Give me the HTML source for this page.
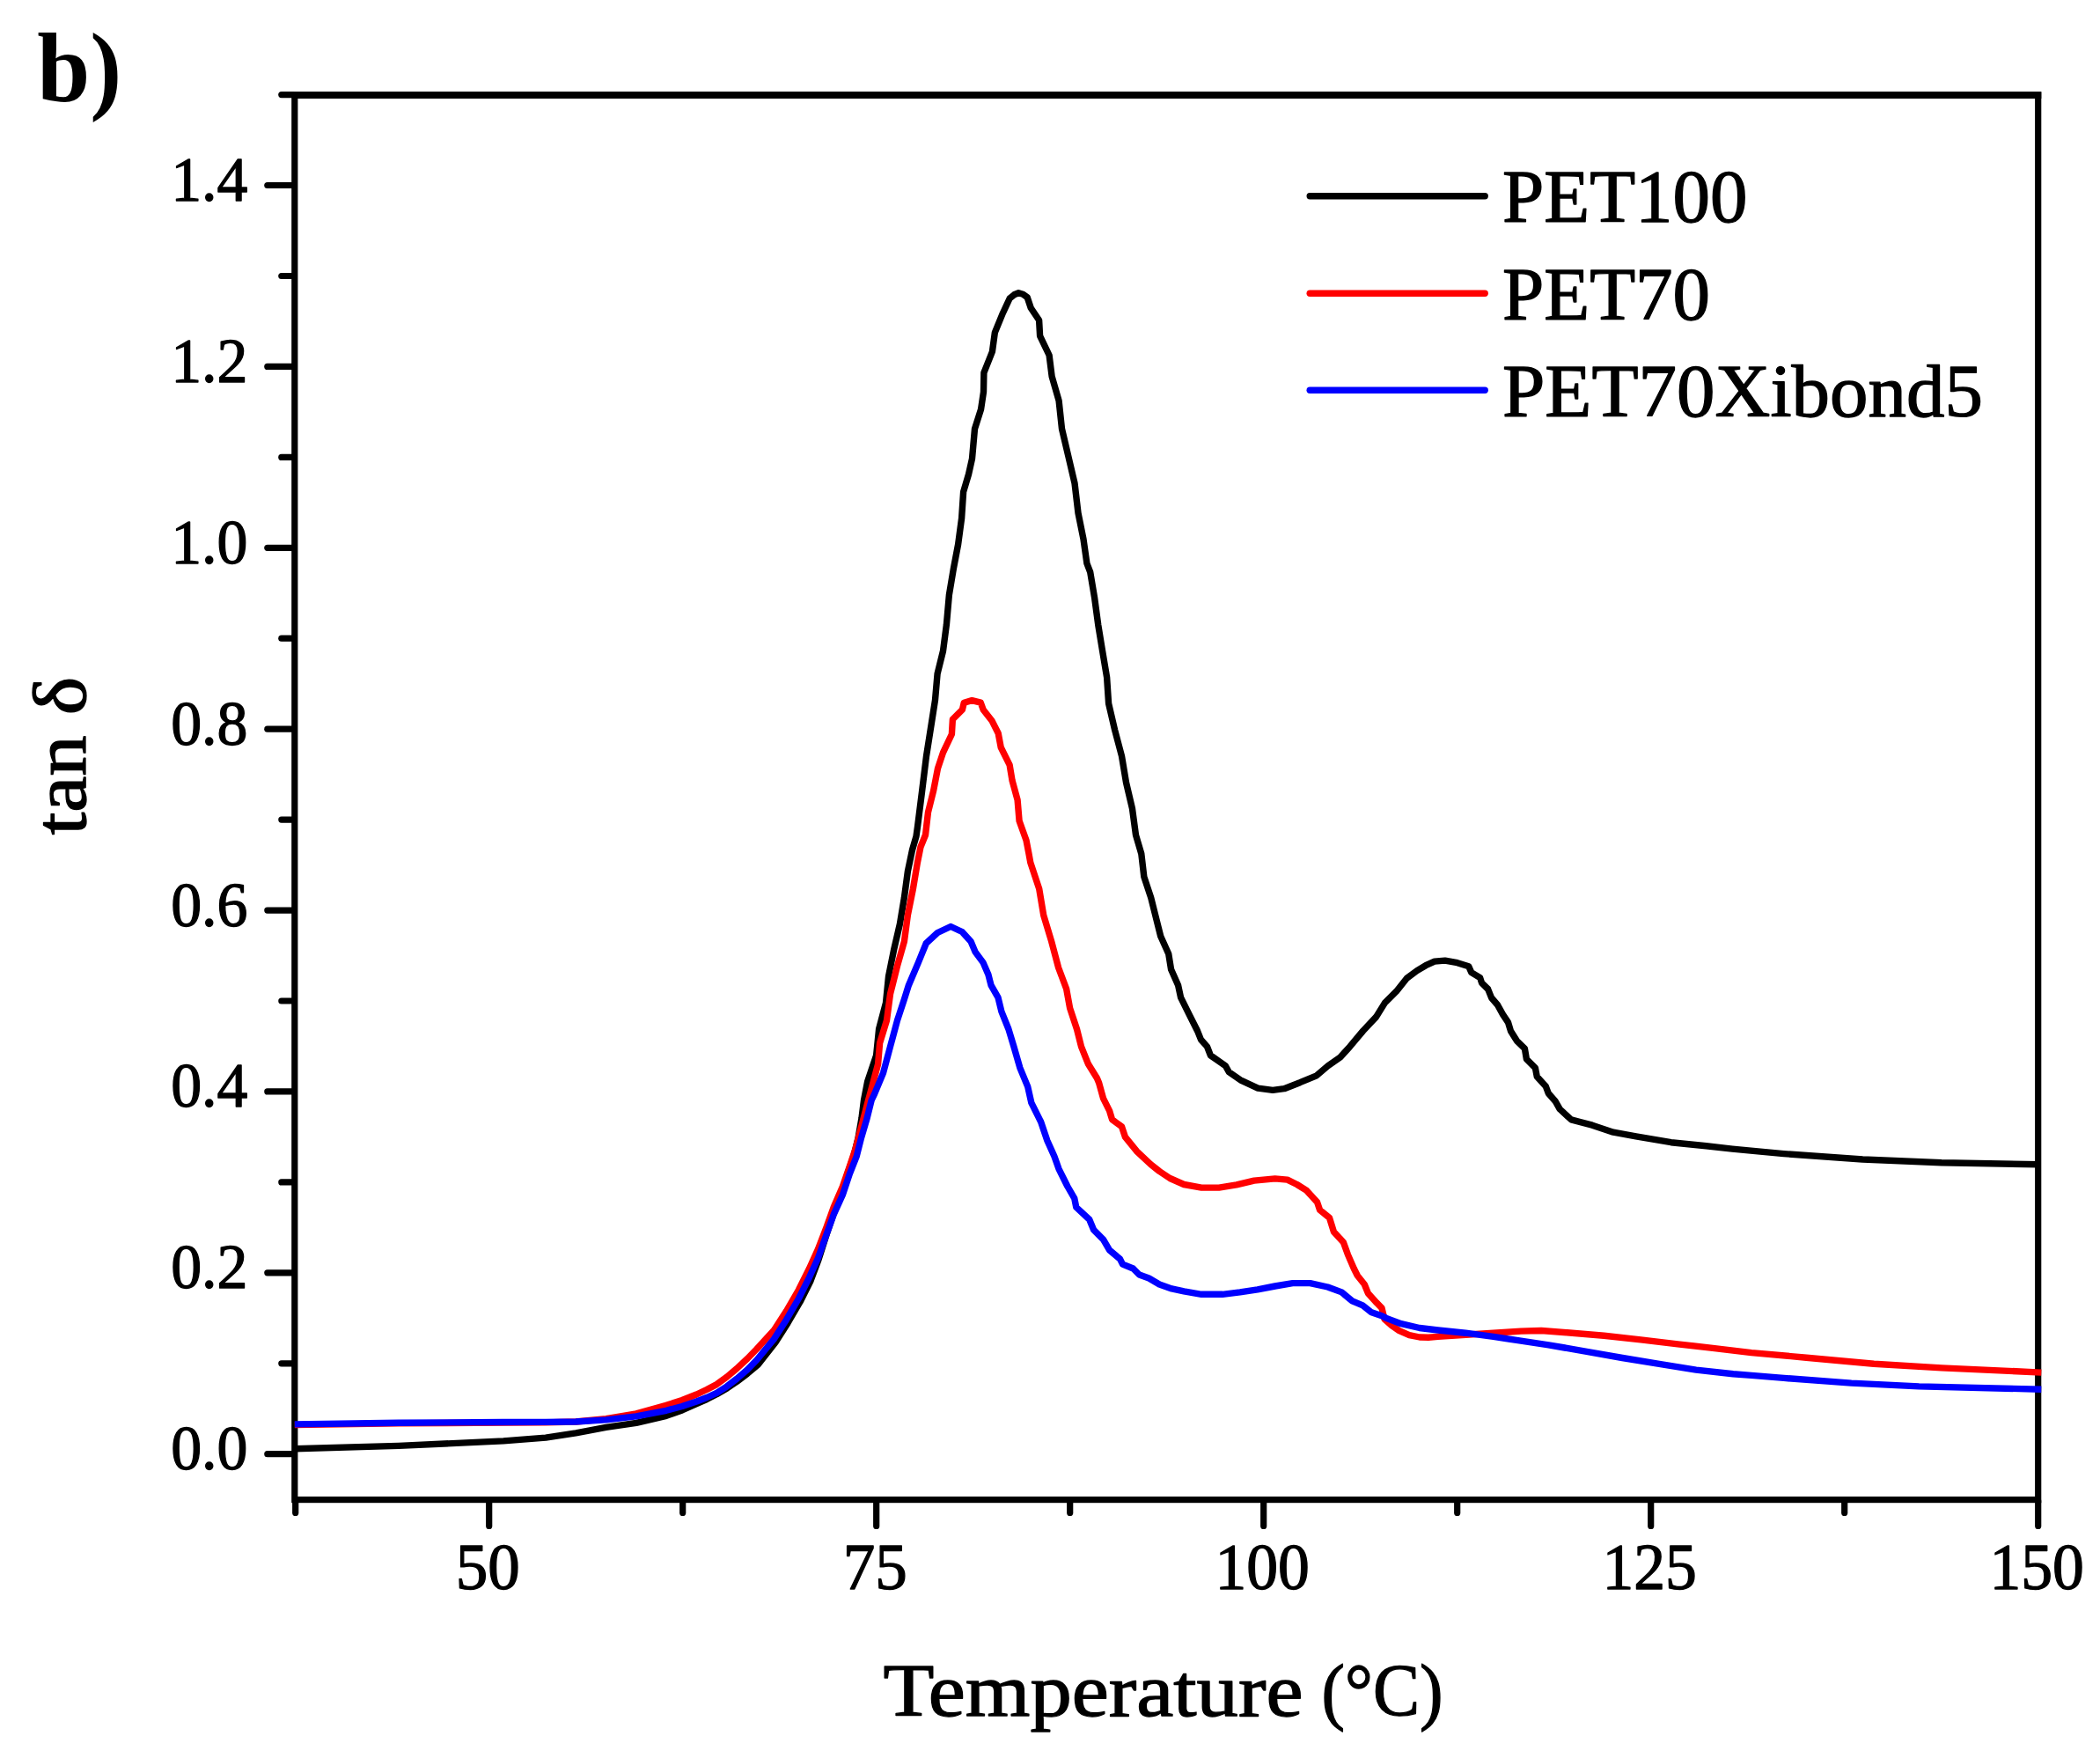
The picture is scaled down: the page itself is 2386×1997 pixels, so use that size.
<!DOCTYPE html>
<html lang="en"><head><meta charset="utf-8"><title>tan delta vs temperature</title>
<style>html,body{margin:0;padding:0;background:#fff;}body{width:2386px;height:1997px;overflow:hidden;}svg{display:block;}text{font-family:"Liberation Serif","DejaVu Serif",serif;fill:#000;stroke:#000;stroke-width:1.3px;stroke-linejoin:round;}text.b{stroke:none;}</style></head><body>
<svg width="2386" height="1997" viewBox="0 0 2386 1997">
<rect x="0" y="0" width="2386" height="1997" fill="#fff"/>
<g stroke="#000" stroke-width="7.2" fill="none" stroke-linecap="round">
<rect x="334.8" y="107.8" width="1980.9" height="1595.8" stroke-linejoin="miter"/>
<line x1="334.8" y1="108.1" x2="2319.3" y2="108.1" stroke-width="7.8" stroke-linecap="butt"/>
<line x1="303.8" y1="1651.7" x2="333.3" y2="1651.7"/>
<line x1="319.8" y1="1548.8" x2="333.3" y2="1548.8"/>
<line x1="303.8" y1="1445.8" x2="333.3" y2="1445.8"/>
<line x1="319.8" y1="1342.9" x2="333.3" y2="1342.9"/>
<line x1="303.8" y1="1239.9" x2="333.3" y2="1239.9"/>
<line x1="319.8" y1="1137.0" x2="333.3" y2="1137.0"/>
<line x1="303.8" y1="1034.1" x2="333.3" y2="1034.1"/>
<line x1="319.8" y1="931.1" x2="333.3" y2="931.1"/>
<line x1="303.8" y1="828.2" x2="333.3" y2="828.2"/>
<line x1="319.8" y1="725.2" x2="333.3" y2="725.2"/>
<line x1="303.8" y1="622.3" x2="333.3" y2="622.3"/>
<line x1="319.8" y1="519.4" x2="333.3" y2="519.4"/>
<line x1="303.8" y1="416.4" x2="333.3" y2="416.4"/>
<line x1="319.8" y1="313.5" x2="333.3" y2="313.5"/>
<line x1="303.8" y1="210.5" x2="333.3" y2="210.5"/>
<line x1="319.8" y1="107.6" x2="333.3" y2="107.6"/>
<line x1="335.7" y1="1705.1" x2="335.7" y2="1718.4"/>
<line x1="555.7" y1="1705.1" x2="555.7" y2="1733.4"/>
<line x1="775.7" y1="1705.1" x2="775.7" y2="1718.4"/>
<line x1="995.7" y1="1705.1" x2="995.7" y2="1733.4"/>
<line x1="1215.7" y1="1705.1" x2="1215.7" y2="1718.4"/>
<line x1="1435.7" y1="1705.1" x2="1435.7" y2="1733.4"/>
<line x1="1655.7" y1="1705.1" x2="1655.7" y2="1718.4"/>
<line x1="1875.7" y1="1705.1" x2="1875.7" y2="1733.4"/>
<line x1="2095.7" y1="1705.1" x2="2095.7" y2="1718.4"/>
<line x1="2315.7" y1="1705.1" x2="2315.7" y2="1733.4"/>
</g>
<g fill="none" stroke-width="7.4" stroke-linejoin="round" stroke-linecap="butt">
<polyline stroke="#000" points="334.8,1645.7 453.0,1642.4 572.0,1636.9 620.0,1633.1 654.3,1627.8 688.6,1621.4 722.9,1616.3 757.1,1608.3 775.0,1602.0 791.4,1594.6 803.0,1589.5 814.3,1583.8 826.0,1577.0 837.1,1569.5 849.0,1560.5 861.0,1550.5 881.0,1525.0 895.0,1503.0 909.0,1479.0 921.0,1455.0 930.0,1431.0 939.4,1401.3 947.0,1379.0 956.0,1357.0 963.0,1333.0 970.0,1313.0 975.0,1293.0 979.0,1270.0 981.5,1250.0 985.6,1228.7 995.6,1198.9 998.6,1169.0 1006.5,1139.1 1009.5,1109.3 1015.5,1079.4 1022.4,1049.6 1027.4,1019.7 1031.4,989.8 1036.4,965.9 1041.0,950.0 1042.6,938.6 1047.6,898.7 1052.5,858.9 1057.5,827.1 1062.5,795.2 1065.1,765.3 1071.5,739.5 1075.4,709.6 1078.4,675.7 1083.4,645.9 1088.6,618.5 1092.6,588.7 1094.6,558.8 1100.5,538.9 1104.5,521.0 1107.5,487.1 1114.5,465.2 1117.5,445.3 1117.9,423.4 1127.4,399.5 1130.4,377.6 1139.4,355.7 1147.3,338.8 1152.3,334.8 1157.3,332.8 1162.3,334.2 1167.2,337.8 1171.2,349.7 1180.6,363.7 1181.6,381.6 1192.1,403.5 1195.1,427.4 1203.1,455.3 1206.5,487.1 1214.0,519.0 1221.0,548.8 1225.0,582.7 1231.0,612.5 1234.9,640.0 1238.7,649.9 1243.7,679.7 1247.7,709.6 1252.6,739.5 1257.6,769.3 1259.6,799.2 1266.6,829.1 1274.5,858.9 1279.5,888.8 1286.5,918.7 1290.5,948.5 1296.8,969.9 1299.8,995.8 1307.7,1019.7 1313.7,1043.6 1318.7,1063.5 1327.7,1083.4 1330.6,1101.3 1338.6,1119.2 1341.6,1133.2 1351.5,1153.1 1360.5,1171.0 1364.5,1181.0 1371.5,1188.9 1375.4,1198.9 1392.4,1210.8 1396.3,1217.8 1409.3,1226.8 1429.2,1236.1 1446.1,1238.3 1459.1,1236.7 1477.0,1229.7 1495.9,1221.8 1508.8,1210.8 1522.8,1200.9 1533.7,1188.9 1548.7,1171.0 1563.6,1155.1 1573.5,1139.1 1586.5,1126.2 1598.4,1111.3 1610.0,1102.6 1619.9,1096.7 1629.9,1092.1 1641.8,1091.1 1655.8,1093.7 1668.7,1097.7 1671.7,1104.6 1681.6,1110.6 1683.6,1116.6 1690.6,1123.5 1694.6,1133.5 1701.5,1141.5 1707.5,1152.4 1713.5,1161.4 1716.5,1171.3 1723.4,1182.3 1732.4,1191.2 1734.4,1203.2 1744.4,1213.1 1746.3,1223.1 1756.3,1234.0 1759.3,1242.0 1767.2,1251.0 1772.2,1259.9 1785.2,1271.9 1809.1,1278.2 1833.0,1286.2 1858.8,1290.8 1898.7,1297.7 1938.5,1301.7 1968.3,1305.1 2000.0,1308.1 2026.8,1310.6 2116.3,1317.0 2205.9,1320.8 2316.0,1322.8"/>
<polyline stroke="#f00" points="334.8,1618.6 453.0,1616.9 572.0,1616.1 620.0,1615.9 654.3,1615.0 688.6,1611.7 722.9,1605.9 757.1,1596.3 775.0,1590.5 791.4,1584.0 803.0,1578.5 814.3,1572.6 826.0,1564.0 837.1,1554.6 849.0,1543.5 859.7,1532.5 879.6,1510.8 893.6,1489.0 907.5,1465.0 919.5,1441.0 929.4,1419.0 939.4,1393.0 947.3,1371.0 957.3,1348.0 965.3,1325.0 972.0,1305.0 976.5,1288.0 981.6,1268.6 986.5,1250.0 989.6,1238.7 997.6,1208.8 999.6,1184.9 1007.5,1159.1 1011.5,1129.2 1019.5,1097.3 1027.4,1069.5 1031.4,1039.6 1037.4,1009.7 1042.4,979.9 1046.0,962.0 1051.5,948.5 1054.5,922.6 1060.5,898.7 1065.5,872.9 1071.5,854.9 1081.4,834.0 1082.4,817.1 1093.4,806.2 1095.3,798.2 1104.3,795.6 1114.3,798.2 1117.2,806.2 1127.2,819.1 1134.2,833.0 1137.2,849.0 1147.1,868.9 1150.1,886.8 1156.1,908.7 1158.1,932.6 1166.0,954.5 1169.0,970.0 1170.8,979.9 1180.7,1009.7 1185.7,1039.6 1194.7,1069.5 1202.6,1099.3 1211.6,1123.2 1215.6,1145.1 1223.5,1169.0 1228.5,1188.9 1236.5,1208.8 1246.4,1224.8 1248.6,1230.0 1253.6,1247.9 1260.6,1261.9 1263.6,1271.8 1274.5,1279.8 1278.5,1291.7 1291.5,1307.7 1307.4,1322.6 1317.3,1330.5 1329.3,1338.5 1345.2,1345.5 1365.1,1349.1 1385.0,1349.1 1404.9,1345.9 1424.9,1341.1 1448.7,1338.9 1462.7,1340.1 1473.6,1345.5 1484.6,1352.4 1496.5,1365.4 1499.5,1374.3 1510.5,1383.3 1515.4,1399.2 1526.4,1411.2 1531.4,1425.1 1538.3,1441.0 1542.3,1449.0 1550.3,1459.0 1554.3,1468.9 1564.2,1479.9 1570.0,1485.8 1573.0,1498.5 1581.5,1506.0 1589.8,1511.6 1601.2,1516.6 1612.9,1519.0 1623.0,1519.2 1633.8,1518.4 1665.2,1516.3 1696.7,1514.2 1728.1,1512.1 1751.1,1511.5 1780.5,1513.8 1822.4,1517.3 1864.3,1521.9 1906.2,1526.8 1948.1,1531.6 1990.0,1536.6 2052.4,1542.2 2129.1,1549.3 2205.9,1553.9 2319.3,1559.1"/>
<polyline stroke="#00f" points="334.8,1617.9 453.0,1616.2 572.0,1615.5 620.0,1615.4 654.3,1615.0 688.6,1612.9 722.9,1608.8 757.1,1602.3 775.0,1597.5 791.4,1592.0 803.0,1587.5 814.3,1582.3 826.0,1574.8 837.1,1566.3 849.0,1556.0 859.7,1545.0 879.6,1520.8 893.6,1498.9 907.5,1475.0 919.5,1451.1 929.4,1429.2 939.4,1401.3 947.3,1379.4 957.3,1357.5 965.3,1333.6 973.2,1313.7 978.2,1293.8 985.2,1269.9 990.1,1250.0 993.6,1242.7 1003.5,1218.8 1011.5,1188.9 1019.5,1159.1 1027.4,1135.2 1032.4,1119.2 1043.4,1093.4 1052.3,1071.5 1065.3,1059.5 1080.2,1052.5 1093.1,1058.5 1103.1,1069.5 1108.1,1081.4 1117.0,1093.4 1123.0,1107.3 1126.0,1119.2 1134.0,1133.2 1137.9,1149.1 1145.9,1169.0 1151.9,1188.9 1158.8,1212.8 1167.8,1234.7 1171.8,1252.6 1182.7,1274.5 1189.9,1295.7 1197.9,1313.6 1202.9,1327.6 1212.8,1347.5 1220.8,1361.4 1222.8,1371.4 1237.7,1385.3 1242.7,1397.2 1253.6,1408.2 1260.6,1420.1 1272.5,1430.1 1275.5,1436.1 1287.5,1441.0 1294.4,1448.0 1305.4,1452.0 1317.3,1459.0 1331.3,1463.9 1345.2,1466.9 1365.1,1470.3 1389.0,1470.3 1408.9,1467.9 1428.8,1464.9 1448.7,1461.0 1468.7,1457.6 1488.6,1457.6 1508.5,1462.0 1524.4,1467.9 1536.4,1477.9 1548.3,1482.9 1558.3,1490.8 1570.0,1494.8 1575.1,1497.4 1591.9,1503.7 1612.9,1508.5 1633.8,1511.0 1665.2,1514.2 1696.7,1518.4 1728.1,1523.2 1759.5,1527.8 1801.4,1535.1 1843.3,1542.5 1885.2,1549.4 1927.1,1556.1 1969.1,1560.7 1990.0,1562.4 2026.8,1565.4 2103.5,1571.1 2180.3,1574.9 2319.3,1578.2"/>
</g>
<g fill="none" stroke-width="7.4" stroke-linecap="round">
<line stroke="#000" x1="1488.2" y1="222.7" x2="1687.2" y2="222.7"/>
<line stroke="#f00" x1="1488.2" y1="333.2" x2="1687.2" y2="333.2"/>
<line stroke="#00f" x1="1488.2" y1="443.3" x2="1687.2" y2="443.3"/>
</g>
<g font-size="72" text-anchor="end">
<text x="281.5" y="1669.2" textLength="87.3" lengthAdjust="spacingAndGlyphs">0.0</text>
<text x="281.5" y="1463.3" textLength="87.3" lengthAdjust="spacingAndGlyphs">0.2</text>
<text x="281.5" y="1257.4" textLength="87.3" lengthAdjust="spacingAndGlyphs">0.4</text>
<text x="281.5" y="1051.6" textLength="87.3" lengthAdjust="spacingAndGlyphs">0.6</text>
<text x="281.5" y="845.7" textLength="87.3" lengthAdjust="spacingAndGlyphs">0.8</text>
<text x="281.5" y="639.8" textLength="87.3" lengthAdjust="spacingAndGlyphs">1.0</text>
<text x="281.5" y="433.9" textLength="87.3" lengthAdjust="spacingAndGlyphs">1.2</text>
<text x="281.5" y="228.0" textLength="87.3" lengthAdjust="spacingAndGlyphs">1.4</text>
</g>
<g font-size="73" text-anchor="middle">
<text x="554.2" y="1805" textLength="73.0" lengthAdjust="spacingAndGlyphs">50</text>
<text x="994.2" y="1805" textLength="73.0" lengthAdjust="spacingAndGlyphs">75</text>
<text x="1434.2" y="1805" textLength="107.5" lengthAdjust="spacingAndGlyphs">100</text>
<text x="1874.2" y="1805" textLength="107.5" lengthAdjust="spacingAndGlyphs">125</text>
<text x="2314.2" y="1805" textLength="107.5" lengthAdjust="spacingAndGlyphs">150</text>
</g>
<g font-size="84">
<text x="1707" y="252.3" textLength="278.5" lengthAdjust="spacingAndGlyphs">PET100</text>
<text x="1707" y="362.8" textLength="236.0" lengthAdjust="spacingAndGlyphs">PET70</text>
<text x="1707" y="472.9" textLength="546.0" lengthAdjust="spacingAndGlyphs">PET70Xibond5</text>
</g>
<text x="1003.5" y="1948.6" font-size="84" textLength="477" lengthAdjust="spacingAndGlyphs">Temperature</text>
<text x="1501.6" y="1948.6" font-size="84" textLength="137.9" lengthAdjust="spacingAndGlyphs">(°C)</text>
<text transform="translate(97.3 948.5) rotate(-90)" font-size="84" textLength="180" lengthAdjust="spacingAndGlyphs">tan δ</text>
<text x="42.3" y="114.8" class="b" font-size="112" font-weight="bold" textLength="96" lengthAdjust="spacingAndGlyphs">b)</text>
</svg></body></html>
